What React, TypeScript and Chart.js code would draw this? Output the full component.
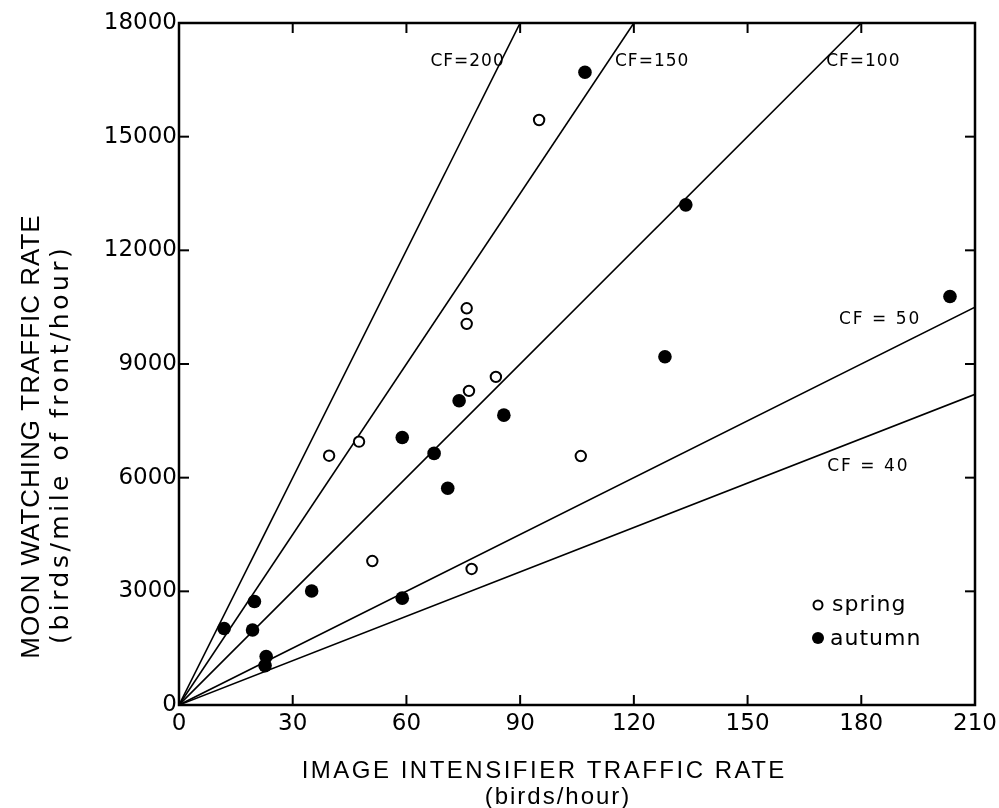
import React, { useEffect, useRef } from "react";
import { Chart, registerables } from "chart.js";

Chart.register(...registerables);

// ---- data ----
const xTickValues = [0, 30, 60, 90, 120, 150, 180, 210];
const yTickValues = [0, 3000, 6000, 9000, 12000, 15000, 18000];

const springX = [95.0, 75.9, 75.9, 76.5, 83.6, 47.5, 39.6, 106.0, 51.0, 77.2];
const springY = [15440, 10470, 10060, 8290, 8660, 6950, 6580, 6570, 3800, 3590];

const autumnX = [107.1, 133.7, 203.4, 128.2, 73.9, 85.7, 58.9, 67.3, 70.9, 35.0, 19.9, 11.9, 19.4, 58.9, 23.0, 22.7];
const autumnY = [16700, 13200, 10780, 9190, 8030, 7650, 7060, 6640, 5720, 3010, 2730, 2020, 1980, 2820, 1280, 1040];

// correction-factor reference lines (from origin to where they leave the frame)
const cfLabels = ["CF=200", "CF=150", "CF=100", "CF = 50", "CF = 40"];
const cfEndX = [90, 120, 180, 210, 210];
const cfEndY = [18000, 18000, 18000, 10500, 8200];
// where each CF label sits (data coordinates)
const cfLabelX = [76.0, 124.7, 180.4, 184.7, 181.6];
const cfLabelY = [16970, 16970, 16970, 10160, 6280];

const seriesNames = ["spring", "autumn"];
const xTitle = "IMAGE INTENSIFIER TRAFFIC RATE";
const xSubTitle = "(birds/hour)";
const yTitle = "MOON WATCHING TRAFFIC RATE";
const ySubTitle = "(birds/mile of front/hour)";

function drawSpaced(ctx: CanvasRenderingContext2D, text: string, x: number, y: number, spacing: number) {
  (ctx as any).letterSpacing = spacing + "px";
  const w = ctx.measureText(text).width;
  ctx.textAlign = "left";
  ctx.fillText(text, x - w / 2 + spacing / 2, y);
  (ctx as any).letterSpacing = "0px";
}

const framePlugin = {
  id: "frameAndNotes",
  afterDatasetsDraw(chart: any) {
    const ctx: CanvasRenderingContext2D = chart.ctx;
    const { left, right, top, bottom } = chart.chartArea;
    const xs = chart.scales.x;
    const ys = chart.scales.y;
    ctx.save();
    ctx.strokeStyle = "#000";
    ctx.lineWidth = 2.5;
    ctx.strokeRect(left, top, right - left, bottom - top);
    ctx.lineWidth = 2;
    const tl = 10;
    const seg = (a: number, b: number, c: number, d: number) => {
      ctx.beginPath();
      ctx.moveTo(a, b);
      ctx.lineTo(c, d);
      ctx.stroke();
    };
    xTickValues.slice(1, -1).forEach((v) => {
      const px = xs.getPixelForValue(v);
      seg(px, bottom, px, bottom - tl);
      seg(px, top, px, top + tl);
    });
    yTickValues.slice(1, -1).forEach((v) => {
      const py = ys.getPixelForValue(v);
      seg(left, py, left + tl, py);
      seg(right, py, right - tl, py);
    });

    // CF labels
    ctx.fillStyle = "#000";
    ctx.textBaseline = "middle";
    ctx.font = "17px 'DejaVu Sans'";
    cfLabels.forEach((t, i) => {
      drawSpaced(ctx, t, xs.getPixelForValue(cfLabelX[i]), ys.getPixelForValue(cfLabelY[i]), t.includes(" ") ? 2 : 1);
    });

    // legend
    const lx = right - 157;
    const ly1 = bottom - 100;
    const ly2 = bottom - 67;
    ctx.lineWidth = 2;
    ctx.beginPath();
    ctx.arc(lx, ly1, 4.5, 0, Math.PI * 2);
    ctx.fillStyle = "#fff";
    ctx.fill();
    ctx.stroke();
    ctx.beginPath();
    ctx.arc(lx, ly2, 6, 0, Math.PI * 2);
    ctx.fillStyle = "#000";
    ctx.fill();
    ctx.font = "22px 'DejaVu Sans'";
    ctx.textAlign = "left";
    ctx.textBaseline = "alphabetic";
    (ctx as any).letterSpacing = "1px";
    ctx.fillText(seriesNames[0], lx + 14, ly1 + 6);
    ctx.fillText(seriesNames[1], lx + 12, ly2 + 7);
    (ctx as any).letterSpacing = "0px";

    // axis titles
    ctx.textBaseline = "middle";
    ctx.font = "24px 'Liberation Sans'";
    drawSpaced(ctx, xTitle, 543, 771, 2.5);
    drawSpaced(ctx, xSubTitle, 557, 797, 2);

    ctx.save();
    ctx.translate(32, 437);
    ctx.rotate(-Math.PI / 2);
    ctx.font = "26px 'Liberation Sans'";
    drawSpaced(ctx, yTitle, 0, 0, 1);
    ctx.restore();
    ctx.save();
    ctx.translate(61, 446);
    ctx.rotate(-Math.PI / 2);
    ctx.font = "25px 'DejaVu Sans'";
    drawSpaced(ctx, ySubTitle, 0, 0, 3.5);
    ctx.restore();

    ctx.restore();
  },
};

export default function App() {
  const ref = useRef<HTMLCanvasElement | null>(null);
  useEffect(() => {
    if (!ref.current) return;
    const springData = springX.map((x, i) => ({ x, y: springY[i] }));
    const autumnData = autumnX.map((x, i) => ({ x, y: autumnY[i] }));
    const lineSets = cfLabels.map((lab, i) => ({
      type: "line" as const,
      label: lab,
      data: [
        { x: 0, y: 0 },
        { x: cfEndX[i], y: cfEndY[i] },
      ],
      borderColor: "#000",
      borderWidth: 1.6,
      pointRadius: 0,
      fill: false,
      tension: 0,
    }));
    const chart = new Chart(ref.current, {
      type: "scatter",
      data: {
        datasets: [
          {
            label: seriesNames[0],
            data: springData,
            pointStyle: "circle",
            pointRadius: 5.2,
            pointBorderWidth: 2,
            pointBackgroundColor: "#fff",
            pointBorderColor: "#000",
          },
          {
            label: seriesNames[1],
            data: autumnData,
            pointStyle: "circle",
            pointRadius: 6.8,
            pointBorderWidth: 0,
            pointBackgroundColor: "#000",
            pointBorderColor: "#000",
          },
          ...lineSets,
        ] as any,
      },
      options: {
        responsive: false,
        animation: false,
        devicePixelRatio: 1,
        layout: { padding: { left: 0, top: 23, right: 24, bottom: 0 } },
        plugins: { legend: { display: false }, tooltip: { enabled: false }, title: { display: false } },
        scales: {
          x: {
            type: "linear",
            min: 0,
            max: 210,
            afterBuildTicks: (s: any) => {
              s.ticks = xTickValues.map((v) => ({ value: v }));
            },
            ticks: {
              color: "#000",
              padding: 5,
              font: { family: "'DejaVu Sans'", size: 23 },
              callback: (v: any) => String(v),
            },
            grid: { display: false, drawTicks: false },
            border: { display: false },
            afterFit: (s: any) => {
              s.height = 103;
              s.paddingLeft = 0;
              s.paddingRight = 0;
            },
          },
          y: {
            type: "linear",
            min: 0,
            max: 18000,
            afterBuildTicks: (s: any) => {
              s.ticks = yTickValues.map((v) => ({ value: v }));
            },
            ticks: {
              color: "#000",
              padding: 2,
              font: { family: "'DejaVu Sans'", size: 23 },
              callback: (v: any) => String(v),
            },
            grid: { display: false, drawTicks: false },
            border: { display: false },
            afterFit: (s: any) => {
              s.width = 179;
              s.paddingTop = 0;
              s.paddingBottom = 0;
            },
          },
        },
      } as any,
      plugins: [framePlugin],
    });
    return () => chart.destroy();
  }, []);
  return (
    <div style={{ position: "fixed", left: 0, top: 0, width: 999, height: 808, background: "#fff" }}>
      <canvas ref={ref} width={999} height={808} style={{ display: "block" }} />
    </div>
  );
}
